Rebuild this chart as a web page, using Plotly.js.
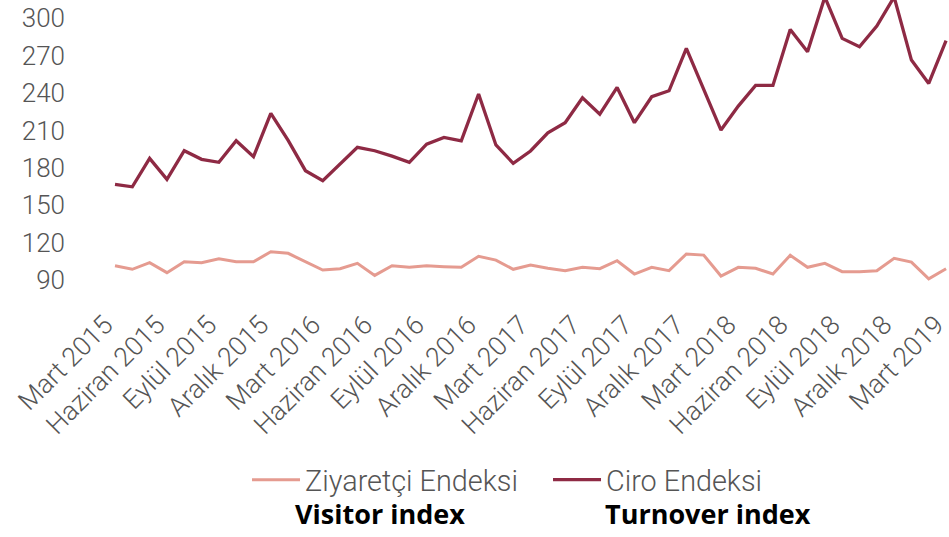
<!DOCTYPE html>
<html>
<head>
<meta charset="utf-8">
<script src="https://cdn.plot.ly/plotly-3.0.1.min.js"></script>
<style>html,body{margin:0;padding:0;background:#fff;}#chart{width:949px;height:537px;}</style>
</head>
<body>
<div id="chart"></div>
<script>
// Month names (Turkish) and period
const monthNames = ["Ocak","Şubat","Mart","Nisan","Mayıs","Haziran","Temmuz","Ağustos","Eylül","Ekim","Kasım","Aralık"];
const startYear = 2015, startMonth = 2, monthCount = 49; // Mart 2015 .. Mart 2019
const months = [];
for (let i = 0; i < monthCount; i++) {
  const m = (startMonth + i) % 12;
  const y = startYear + Math.floor((startMonth + i) / 12);
  months.push(monthNames[m] + " " + y);
}
const tickLabels = months.filter((_, i) => i % 3 === 0);

// Ziyaretçi Endeksi (visitor index)
const visitorIndex = [
  101.5, 98.6, 103.9, 95.9, 104.7, 103.9, 107.1, 104.7, 104.7, 112.7,
  111.4, 104.7, 98.0, 99.1, 103.4, 93.7, 101.5, 100.2, 101.5, 100.7,
  100.2, 109.0, 106.0, 98.6, 102.0, 99.4, 97.5, 100.2, 99.1, 105.5,
  94.8, 100.2, 97.5, 110.9, 110.0, 93.2, 100.2, 99.4, 94.8, 109.8,
  100.2, 103.4, 96.7, 96.7, 97.5, 107.4, 104.4, 91.0, 99.1
];

// Ciro Endeksi (turnover index)
const turnoverIndex = [
  166.7, 164.8, 187.6, 170.7, 193.7, 186.8, 184.4, 201.7, 189.0, 223.7,
  202.0, 177.7, 169.6, 183.0, 196.4, 193.7, 189.4, 184.4, 199.0, 204.4,
  201.7, 239.2, 198.3, 183.6, 193.5, 208.1, 216.2, 236.2, 223.1, 244.5,
  216.2, 237.0, 241.8, 275.8, 243.7, 210.3, 229.5, 246.1, 246.1, 291.0,
  273.1, 317.0, 283.8, 277.1, 293.7, 317.0, 266.4, 247.7, 282.0
];

const seriesNames = ["Ziyaretçi Endeksi", "Ciro Endeksi"];
const captions = ["Visitor index", "Turnover index"];
const yTicks = [90, 120, 150, 180, 210, 240, 270, 300];

const baseFamily = "Roboto, 'Noto Sans', sans-serif";
const textColor = "#555555";

const traces = [
  {x: months, y: visitorIndex, name: seriesNames[0], type: "scatter", mode: "lines",
   line: {color: "#E59B90", width: 3}},
  {x: months, y: turnoverIndex, name: seriesNames[1], type: "scatter", mode: "lines",
   line: {color: "#8E2A44", width: 3.3}}
];

const layout = {
  width: 949, height: 537,
  margin: {l: 66, r: 0, t: 0, b: 247},
  paper_bgcolor: "#ffffff", plot_bgcolor: "#ffffff",
  showlegend: true,
  font: {family: baseFamily, size: 26, color: textColor, weight: 300},
  xaxis: {
    type: "category",
    range: [-2.83, 48.17],
    tickmode: "array", tickvals: tickLabels, ticktext: tickLabels,
    tickangle: -45, tickfont: {family: baseFamily, size: 26.5, color: textColor, weight: 300},
    ticklabelshift: -10, ticklabelstandoff: 13,
    showgrid: false, zeroline: false, showline: false, ticks: ""
  },
  yaxis: {
    range: [82, 314.6],
    tickmode: "array", tickvals: yTicks,
    tickfont: {family: baseFamily, size: 26, color: textColor, weight: 300},
    showgrid: false, zeroline: false, showline: false, ticks: ""
  },
  legend: {
    orientation: "h", x: 0.205, xanchor: "left", y: -0.655, yanchor: "middle",
    font: {family: baseFamily, size: 28.8, color: textColor, weight: 300},
    itemwidth: 48, entrywidth: 238, bgcolor: "rgba(0,0,0,0)"
  },
  annotations: [
    {text: captions[0], xref: "paper", yref: "paper", x: 0.3556, y: -0.769, xanchor: "center", yanchor: "middle",
     showarrow: false, font: {family: "'Open Sans', sans-serif", size: 27, color: "#000000", weight: 700}},
    {text: captions[1], xref: "paper", yref: "paper", x: 0.727, y: -0.769, xanchor: "center", yanchor: "middle",
     showarrow: false, font: {family: "'Open Sans', sans-serif", size: 27, color: "#000000", weight: 700}}
  ]
};

Plotly.newPlot("chart", traces, layout, {staticPlot: true, displayModeBar: false});
</script>
</body>
</html>
